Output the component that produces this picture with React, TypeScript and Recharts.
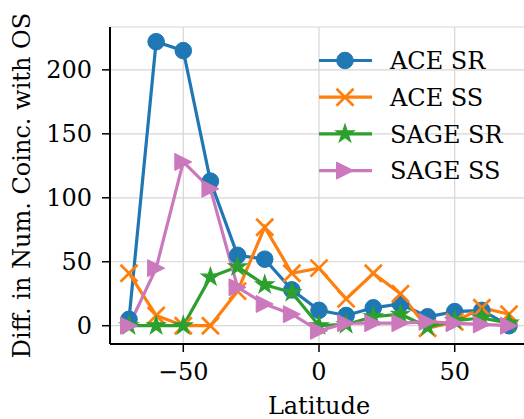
import React from 'react';
import { LineChart, Line, XAxis, YAxis, CartesianGrid } from 'recharts';

const latitudes = [-70, -60, -50, -40, -30, -20, -10, 0, 10, 20, 30, 40, 50, 60, 70];
const aceSR = [5, 222, 215, 113, 55, 52, 28, 12, 8, 14, 17, 7, 11, 12, 0];
const aceSS = [41, 8, 0, 0, 27, 77, 41, 45, 21, 41, 25, -2, 3, 14, 9];
const sageSR = [0, 0, 0, 38, 46, 32, 26, 0, 1, 7, 9, -1, 4, 6, 2];
const sageSS = [0, 45, 128, 107, 30, 17, 9, -4, 2, 2, 2, 3, 2, 1, 0];

const xTicks = [-50, 0, 50];
const yTicks = [0, 50, 100, 150, 200];

const seriesNames = ['ACE SR', 'ACE SS', 'SAGE SR', 'SAGE SS'];
const colors = ['#1f77b4', '#ff7f0e', '#2ca02c', '#cc78bc'];
const markers = ['circle', 'x', 'star', 'triangle'];

const data = latitudes.map((lat, i) => ({
  lat,
  aceSR: aceSR[i],
  aceSS: aceSS[i],
  sageSR: sageSR[i],
  sageSS: sageSS[i],
}));

const FONT = 'DejaVu Serif';
const FS = 24;

function Marker({ kind, cx, cy, color }: { kind: string; cx: number; cy: number; color: string }) {
  if (kind === 'circle') return <circle cx={cx} cy={cy} r={8.3} fill={color} stroke={color} strokeWidth={1} />;
  if (kind === 'x') {
    const s = 8.5;
    return (
      <g stroke={color} strokeWidth={2.7}>
        <line x1={cx - s} y1={cy - s} x2={cx + s} y2={cy + s} />
        <line x1={cx - s} y1={cy + s} x2={cx + s} y2={cy - s} />
      </g>
    );
  }
  if (kind === 'star') {
    const ro = 9.5, ri = ro * 0.382;
    const pts: string[] = [];
    for (let k = 0; k < 10; k++) {
      const r = k % 2 === 0 ? ro : ri;
      const a = -Math.PI / 2 + (k * Math.PI) / 5;
      pts.push(`${cx + r * Math.cos(a)},${cy + r * Math.sin(a)}`);
    }
    return <polygon points={pts.join(' ')} fill={color} stroke={color} strokeWidth={1.2} />;
  }
  const s = 8.5;
  return (
    <polygon
      points={`${cx + s},${cy} ${cx - s},${cy - s} ${cx - s},${cy + s}`}
      fill={color}
      stroke={color}
      strokeWidth={1}
    />
  );
}

const makeDot = (idx: number) => (props: any) => {
  const { cx, cy, index } = props;
  if (cx == null || cy == null) return <g key={`d${idx}-${index}`} />;
  return (
    <g key={`d${idx}-${index}`}>
      <Marker kind={markers[idx]} cx={cx} cy={cy} color={colors[idx]} />
    </g>
  );
};

const fmtX = (v: number) => (v < 0 ? '\u2212' + Math.abs(v) : String(v));

const LegendBox = () => (
  <svg width={200} height={150} style={{ position: 'absolute', left: 319, top: 45, overflow: 'visible' }}>
    {seriesNames.map((name, i) => {
      const y = 15.5 + i * 36.7;
      return (
        <g key={name}>
          <line x1={0} y1={y} x2={53} y2={y} stroke={colors[i]} strokeWidth={3.2} />
          <Marker kind={markers[i]} cx={26} cy={y} color={colors[i]} />
          <text x={71} y={y} dy="0.36em" fontFamily={FONT} fontSize={FS} fill="#000">
            {name}
          </text>
        </g>
      );
    })}
  </svg>
);

export default function App() {
  const keys = ['aceSR', 'aceSS', 'sageSR', 'sageSS'];
  return (
    <div style={{ position: 'absolute', left: 0, top: 0, width: 540, height: 419, background: '#fff' }}>
      <LineChart
        width={540}
        height={419}
        data={data}
        margin={{ top: 27, right: 12, bottom: 0, left: 0 }}
        style={{ fontFamily: FONT }}
      >
        <CartesianGrid stroke="#d6d6d6" strokeWidth={1.2} />
        <XAxis
          dataKey="lat"
          type="number"
          domain={[-77, 77]}
          allowDataOverflow
          ticks={xTicks}
          tickFormatter={fmtX}
          tickSize={8}
          tickMargin={11}
          height={75}
          stroke="#000"
          axisLine={{ stroke: '#000', strokeWidth: 2 }}
          tickLine={{ stroke: '#000', strokeWidth: 1.5 }}
          tick={{ fill: '#000', fontSize: FS, fontFamily: FONT }}
          label={{ value: 'Latitude', position: 'insideBottom', offset: 5, fill: '#000', fontSize: FS, fontFamily: FONT }}
        />
        <XAxis xAxisId="top" orientation="top" type="number" domain={[-77, 77]} ticks={[]} tick={false} tickLine={false} height={0} axisLine={{ stroke: '#000', strokeWidth: 2 }} />
        <YAxis
          type="number"
          domain={[-14.3, 233.5]}
          allowDataOverflow
          ticks={yTicks}
          tickSize={8}
          tickMargin={10}
          width={110}
          axisLine={{ stroke: '#000', strokeWidth: 2 }}
          tickLine={{ stroke: '#000', strokeWidth: 1.5 }}
          tick={{ fill: '#000', fontSize: FS, fontFamily: FONT }}
          label={{
            value: 'Diff. in Num. Coinc. with OS',
            angle: -90,
            position: 'insideLeft',
            offset: 0,
            dx: 21,
            fill: '#000',
            fontSize: FS,
            fontFamily: FONT,
            style: { textAnchor: 'middle' },
          }}
        />
        <YAxis yAxisId="right" orientation="right" width={0} tick={false} tickLine={false} axisLine={{ stroke: '#000', strokeWidth: 2 }} />
        {keys.map((k, i) => (
          <Line
            key={k}
            dataKey={k}
            name={seriesNames[i]}
            stroke={colors[i]}
            strokeWidth={3.2}
            dot={makeDot(i)}
            activeDot={false}
            isAnimationActive={false}
          />
        ))}
      </LineChart>
      <LegendBox />
    </div>
  );
}
